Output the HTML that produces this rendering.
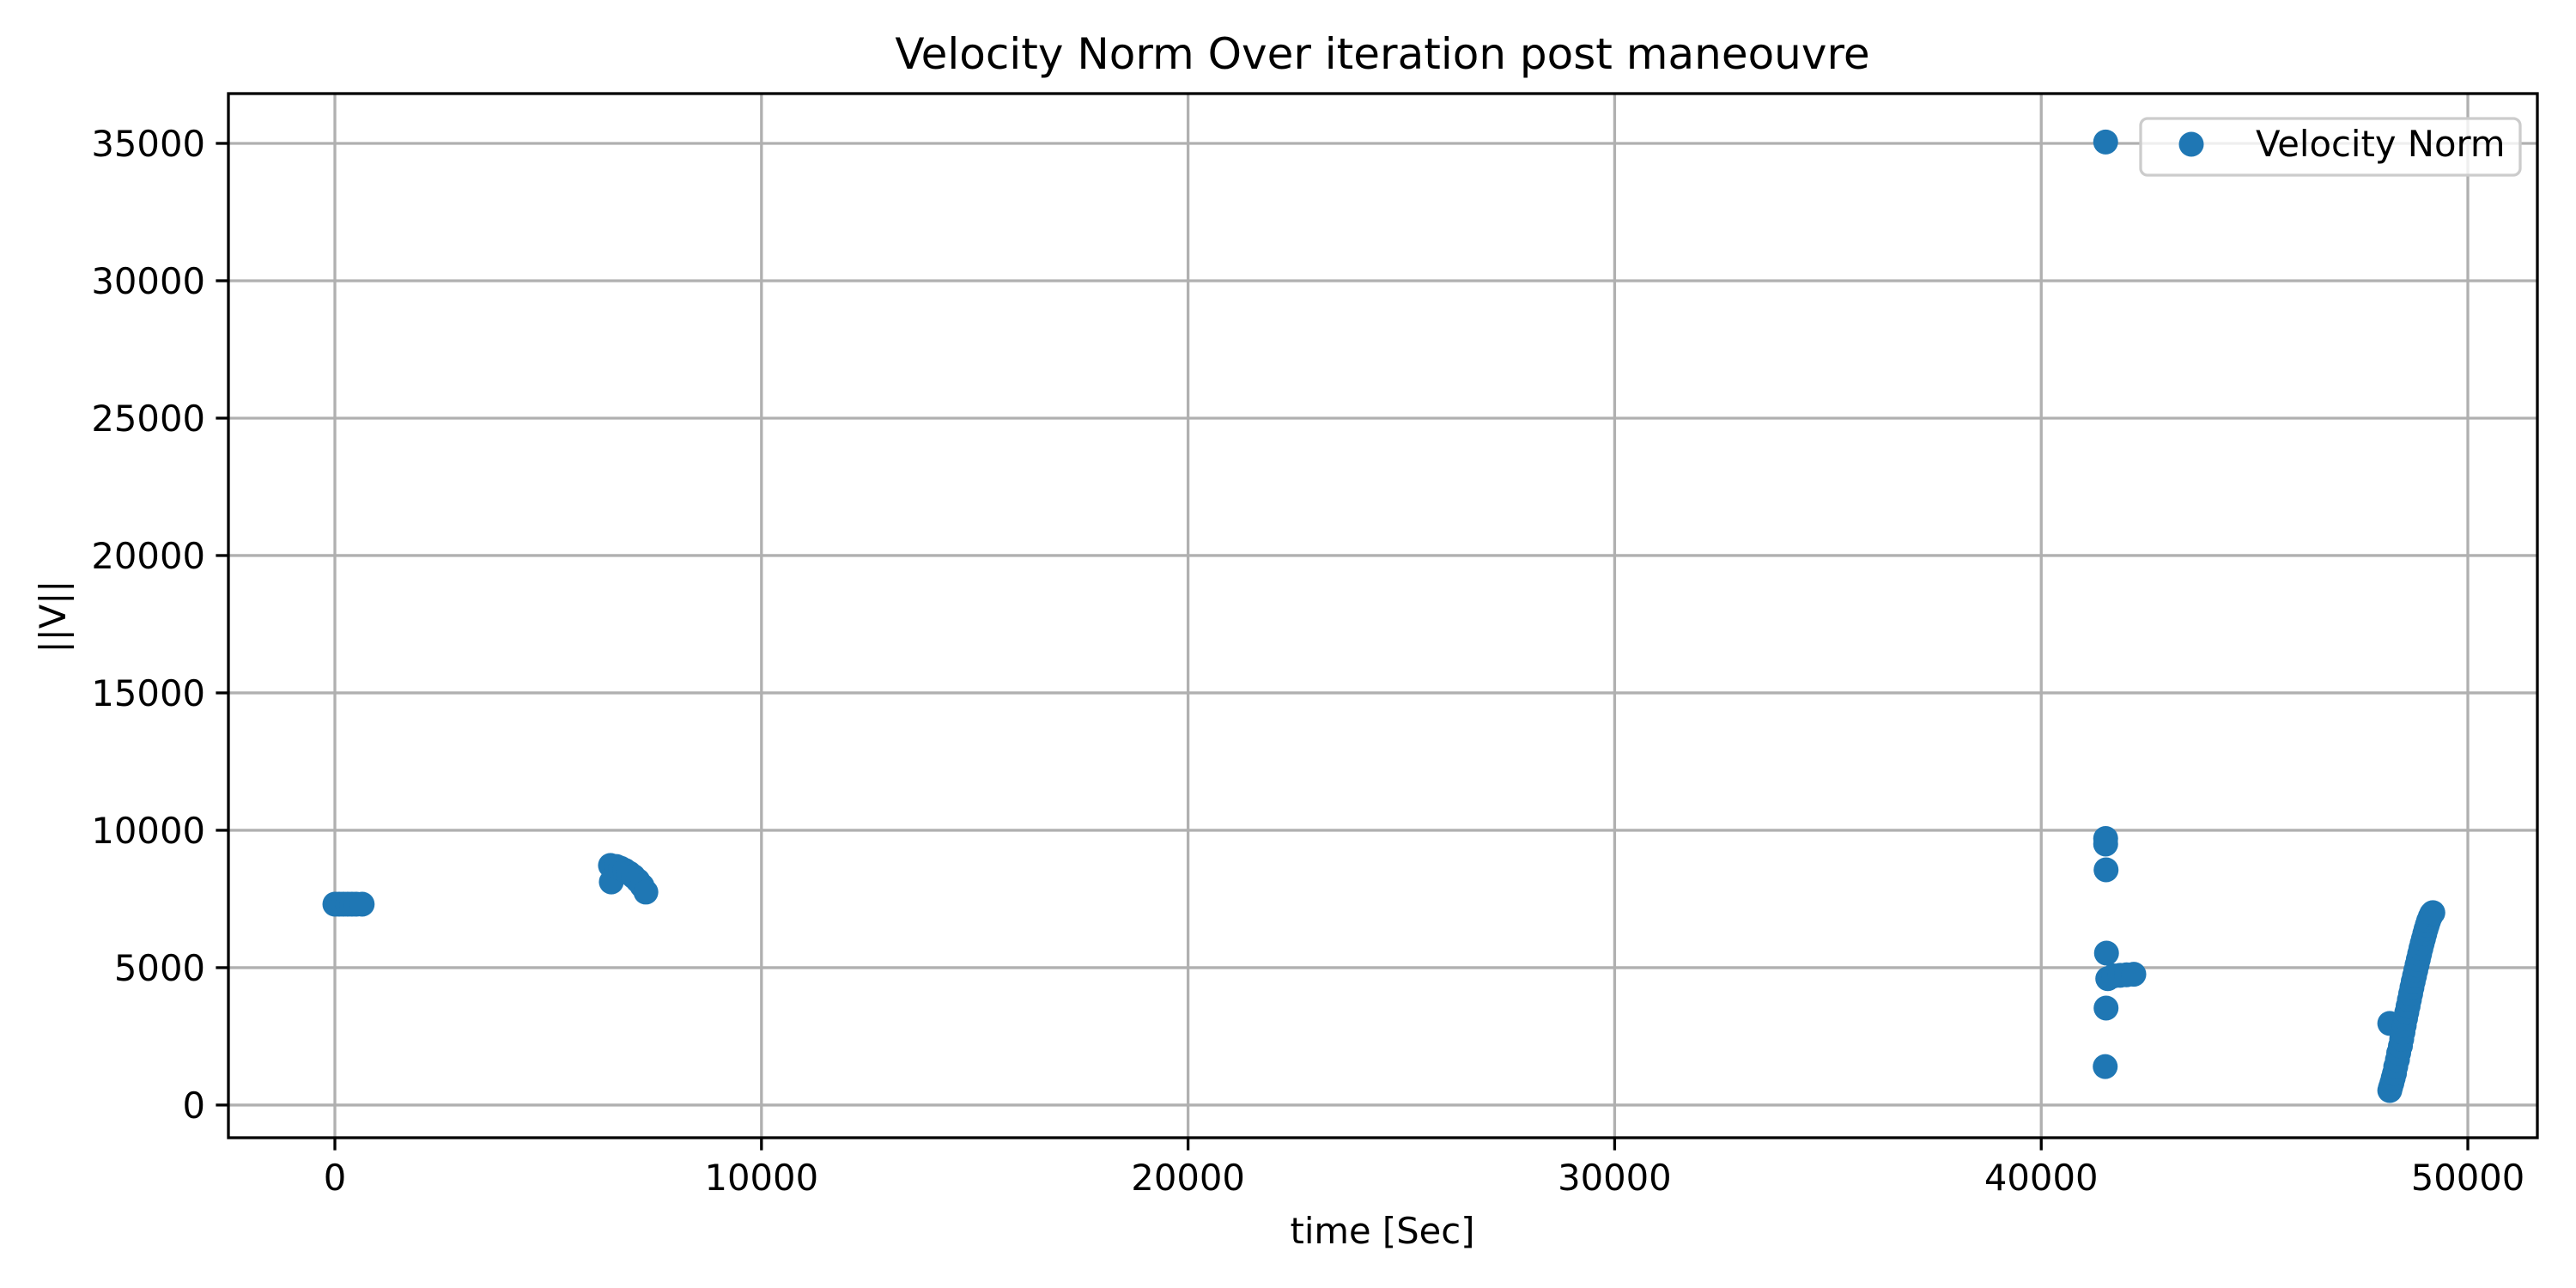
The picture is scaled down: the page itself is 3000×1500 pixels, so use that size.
<!DOCTYPE html>
<html><head><meta charset="utf-8"><style>
html,body{margin:0;padding:0;background:#fff;}
svg{display:block;font-family:"DejaVu Sans","Liberation Sans",sans-serif;}
</style></head><body>
<svg id="chart" width="3000" height="1500" viewBox="0 0 3000 1500">
<rect width="3000" height="1500" fill="#fff"/>
<g id="grid"></g>
<g id="points"></g>
<g id="axes"></g>
<text x="1610" y="80" font-size="50" text-anchor="middle">Velocity Norm Over iteration post maneouvre</text>
<text x="1610" y="1448" font-size="41.7" text-anchor="middle">time [Sec]</text>
<text transform="translate(76,718) rotate(-90)" font-size="41.7" text-anchor="middle">||V||</text>
<g>
<rect x="2493" y="138" width="442" height="66" rx="8" fill="#fff" fill-opacity="0.8" stroke="#cccccc" stroke-width="3.3"/>
<circle cx="2552" cy="168" r="14.5" fill="#1f77b4"/>
<text x="2627" y="182" font-size="41.7">Velocity Norm</text>
</g>
</svg>
<script>
const xTicks=[0,10000,20000,30000,40000,50000];
const yTicks=[0,5000,10000,15000,20000,25000,30000,35000];
const timeValues=[0,100,200,300,400,500,640,
6460,6480,6600,6700,6800,6900,7000,7100,7200,7290,
41510,41510,41510,41520,41530,41560,41700,41850,42000,42170,41520,41500,
48170,48170,48190,48220,48250,48280,48310,48350,48380,48420,48450,48480,48510,48540,48570,48600,48630,48660,48690,48720,48750,48780,48810,48840,48870,48900,48930,48960,48990,49020,49050,49080,49120,49150,49180];
const velocityValues=[7310,7310,7310,7310,7310,7310,7310,
8720,8120,8680,8620,8540,8440,8320,8170,7980,7750,
35050,9700,9500,8560,5530,4600,4700,4720,4740,4760,3530,1400,
530,2970,650,800,980,1150,1400,1650,1900,2150,2400,2650,2900,3150,3380,3600,3830,4050,4280,4500,4700,4900,5100,5300,5500,5700,5880,6050,6230,6400,6550,6700,6850,6950,7000];
const L=266,R=2955,T=109,B=1325;
const X0=-2496,X1=51630,Y0=-1190,Y1=36812;
const sx=v=>L+(v-X0)/(X1-X0)*(R-L);
const sy=v=>B-(v-Y0)/(Y1-Y0)*(B-T);
const NS='http://www.w3.org/2000/svg';
function mk(tag,attrs,parent){const e=document.createElementNS(NS,tag);for(const k in attrs)e.setAttribute(k,attrs[k]);parent.appendChild(e);return e;}
const grid=document.getElementById('grid'),axes=document.getElementById('axes'),pts=document.getElementById('points');
xTicks.forEach(t=>{
 const x=sx(t);
 const g=mk('line',{x1:x,x2:x,y1:T,y2:B,stroke:'#b0b0b0','stroke-width':3.3},grid);
 
 
 const tk=mk('line',{x1:x,x2:x,y1:B,y2:B+14.6,stroke:'#000','stroke-width':3.3},axes);
 
 
 const lb=mk('text',{x:x,y:B+61,'font-size':41.7,'text-anchor':'middle'},axes);
 lb.textContent=String(t);
 
 
});
yTicks.forEach(t=>{
 const y=sy(t);
 const g=mk('line',{x1:L,x2:R,y1:y,y2:y,stroke:'#b0b0b0','stroke-width':3.3},grid);
 
 
 const tk=mk('line',{x1:L-14.6,x2:L,y1:y,y2:y,stroke:'#000','stroke-width':3.3},axes);
 
 
 const lb=mk('text',{x:L-27,y:y+15,'font-size':41.7,'text-anchor':'end'},axes);
 lb.textContent=String(t);
 
 
});
const frame=mk('rect',{x:L,y:T,width:R-L,height:B-T,fill:'none',stroke:'#000','stroke-width':3.3},axes);


timeValues.forEach((t,i)=>{
 const c=mk('circle',{cx:sx(t),cy:sy(velocityValues[i]),r:14.5,fill:'#1f77b4'},pts);
 
 
});
</script>
</body></html>
